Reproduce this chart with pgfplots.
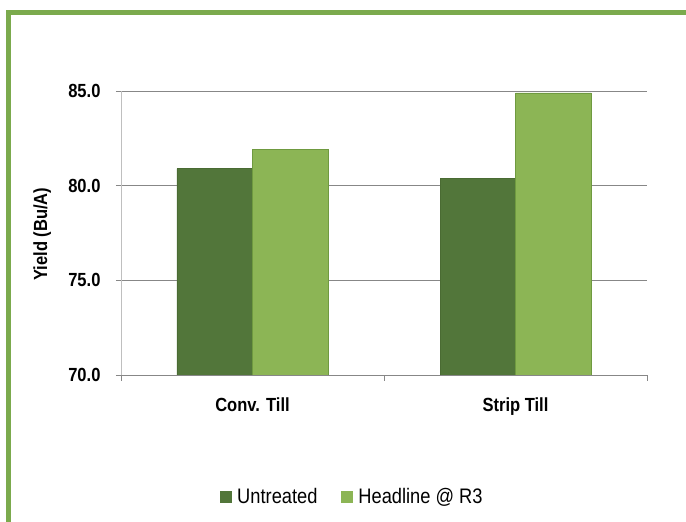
\documentclass[border=0pt]{standalone}
\usepackage{fontspec}
\setmainfont{Liberation Sans}[FakeStretch=0.87]
\usepackage{pgfplots}
\pgfplotsset{compat=1.18}
\definecolor{darkbar}{HTML}{52763A}
\definecolor{darkedge}{HTML}{4A6B33}
\definecolor{lightbar}{HTML}{8CB555}
\definecolor{lightedge}{HTML}{6F9A40}
\definecolor{frame}{HTML}{7BAA4D}
\definecolor{gridgray}{HTML}{878787}
\begin{document}
\begin{tikzpicture}[x=1pt,y=1pt]
\path[use as bounding box] (0,0) rectangle (686,522);
% green frame (top and left)
\fill[frame] (6,0) rectangle (11,512);
\fill[frame] (6,507) rectangle (686,512);
\begin{axis}[
    at={(121pt,147pt)}, anchor=south west,
    scale only axis,
    width=526pt, height=284pt,
    ybar=0pt, bar width=75.5pt,
    xmin=-0.5, xmax=1.5,
    ymin=70, ymax=85,
    xtick={0,1},
    xticklabels={Conv. Till, Strip Till},
    minor xtick={-0.5,0.5,1.5},
    ytick={70,75,80,85},
    yticklabels={70.0,75.0,80.0,85.0},
    axis lines*=left,
    x axis line style={draw=gridgray},
    y axis line style={draw=black!25},
    ymajorgrids,
    grid style={gridgray, line width=0.9pt},
    tick align=outside,
    major tick length=5pt,
    minor tick length=6pt,
    major x tick style={draw=none},
    minor x tick style={gridgray, line width=0.9pt},
    major y tick style={gridgray, line width=0.9pt},
    ticklabel style={font=\fontsize{19}{19}\selectfont\bfseries},
    yticklabel style={xshift=-12pt},
    xticklabel style={yshift=-14pt},
    ylabel={Yield (Bu/A)},
    ylabel style={at={(axis description cs:-0.150,0.496)}, anchor=center,
        font=\fontsize{19}{19}\selectfont\bfseries},
    legend columns=2,
    legend style={at={(0.44,-0.43)}, anchor=center, draw=none,
        font=\fontsize{21}{21}\selectfont,
        /tikz/every odd column/.append style={column sep=3pt},
        /tikz/every even column/.append style={column sep=22pt}},
    legend image code/.code={\draw[#1,draw=none] (0pt,-6pt) rectangle (12pt,6pt);},
]
\addplot[fill=darkbar, draw=darkedge] coordinates {(0,80.9) (1,80.4)};
\addlegendentry{Untreated}
\addplot[fill=lightbar, draw=lightedge] coordinates {(0,81.9) (1,84.9)};
\addlegendentry{Headline @ R3}
\end{axis}
\end{tikzpicture}
\end{document}
